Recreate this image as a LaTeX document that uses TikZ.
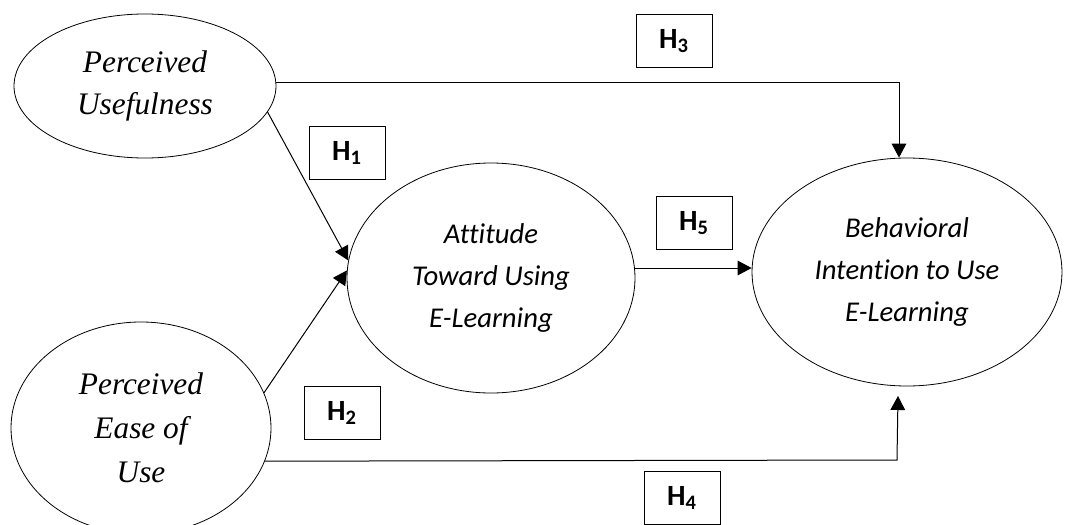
\documentclass[tikz,border=0pt]{standalone}
\usepackage{fontspec}
\setmainfont{Liberation Serif}
\newfontfamily\calibri[Ligatures=NoCommon]{Carlito}
\usetikzlibrary{shapes.geometric,arrows.meta}

\tikzset{
  construct/.style={draw, ellipse, line width=0.6pt, inner sep=0pt, align=center},
  serifconstruct/.style={construct, font=\fontsize{23.5}{31.5}\selectfont\itshape},
  sansconstruct/.style={construct, font=\calibri\fontsize{21.5}{31.5}\selectfont\itshape},
  hyp/.style={draw, line width=0.6pt, minimum width=57pt, minimum height=40pt,
    inner sep=0pt, font=\calibri\fontsize{22}{24}\selectfont\bfseries},
  path/.style={line width=0.75pt, -{Triangle[length=10.5pt,width=11pt]}}
}

\begin{document}
\begin{tikzpicture}[x=0.75pt, y=-0.75pt]
\useasboundingbox (0,0) rectangle (1072,525);

% constructs
\node[serifconstruct, minimum width=196.5pt, minimum height=108pt] (PU) at (145,86)
  {Perceived\\Usefulness};
\node[serifconstruct, minimum width=195pt, minimum height=159pt,
  font=\fontsize{23.5}{33}\selectfont\itshape] (PEU) at (141,428)
  {Perceived\\Ease of\\Use};
\node[sansconstruct, minimum width=216pt, minimum height=172.5pt] (ATT) at (491,278)
  {Attitude\\Toward Using\\E-Learning};
\node[sansconstruct, minimum width=232.5pt, minimum height=171pt] (BI) at (907,272)
  {Behavioral\\Intention to Use\\E-Learning};

% hypothesis labels
\node[hyp] (H1) at (347,153) {H\textsubscript{1}};
\node[hyp] (H2) at (342,413) {H\textsubscript{2}};
\node[hyp] (H3) at (674,41)  {H\textsubscript{3}};
\node[hyp] (H4) at (682,498) {H\textsubscript{4}};
\node[hyp] (H5) at (694,223) {H\textsubscript{5}};

% paths
\draw[path] (PU.-12) -- (ATT.173);
\draw[path] (PEU.16) -- (ATT.177);
\draw[path] ([yshift=3pt]PU.east) -| ([xshift=-6pt]BI.north);
\draw[path] ([yshift=7.5pt]ATT.east) coordinate (h5a) -- (h5a -| BI.west);
\coordinate (h4end) at (898,396);
\coordinate (h4turn) at (897,460);
\draw[path] (PEU.-15) -- (h4turn) -- (h4end);
\end{tikzpicture}
\end{document}
